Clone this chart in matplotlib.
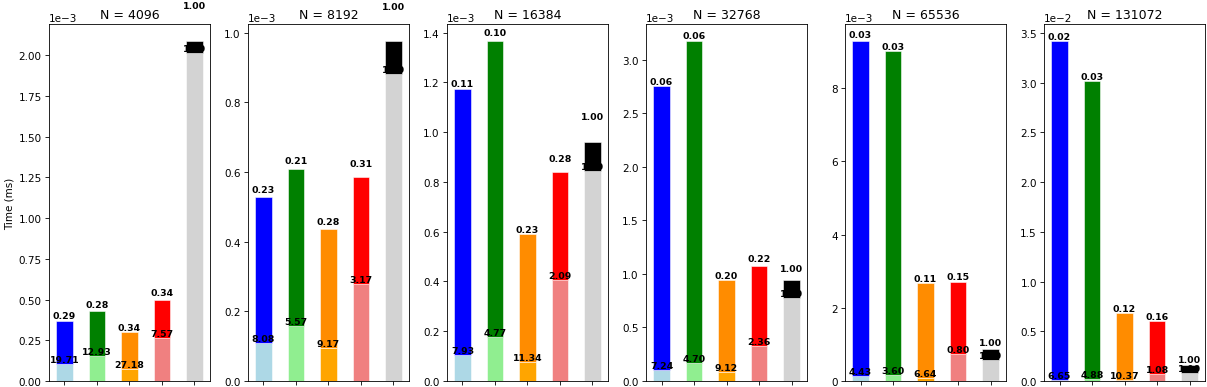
import numpy as np
import matplotlib
matplotlib.use("Agg")
import matplotlib.pyplot as plt

# problem sizes
sizes = [4096, 8192, 16384, 32768, 65536, 131072]

# time of the first stage (lower, light part) per method, in ms
stage1 = [
    [0.102e-3, 0.156e-3, 0.074e-3, 0.266e-3, 2.012e-3],
    [0.109e-3, 0.158e-3, 0.096e-3, 0.279e-3, 0.882e-3],
    [0.106e-3, 0.177e-3, 0.0745e-3, 0.404e-3, 0.845e-3],
    [0.107e-3, 0.164e-3, 0.085e-3, 0.329e-3, 0.773e-3],
    [0.131e-3, 0.161e-3, 0.087e-3, 0.725e-3, 0.58e-3],
    [0.012e-2, 0.0164e-2, 0.0077e-2, 0.074e-2, 0.08e-2],
]
# total time (stage 1 + stage 2), in ms
total = [
    [0.367e-3, 0.429e-3, 0.300e-3, 0.494e-3, 2.086e-3],
    [0.529e-3, 0.608e-3, 0.437e-3, 0.587e-3, 0.976e-3],
    [1.172e-3, 1.366e-3, 0.589e-3, 0.838e-3, 0.961e-3],
    [2.754e-3, 3.175e-3, 0.944e-3, 1.078e-3, 0.944e-3],
    [9.287e-3, 9.01e-3, 2.679e-3, 2.698e-3, 0.875e-3],
    [3.42e-2, 3.017e-2, 0.681e-2, 0.607e-2, 0.164e-2],
]
# spread of the total time (run to run)
spread = [
    [0.008e-3, 0.014e-3, 0.003e-3, 0.021e-3, 0.19e-3],
    [0.007e-3, 0.013e-3, 0.007e-3, 0.025e-3, 0.086e-3],
    [0.007e-3, 0.017e-3, 0.003e-3, 0.036e-3, 0.083e-3],
    [0.0, 0.005e-3, 0.0, 0.028e-3, 0.068e-3],
    [0.05e-3, 0.01e-3, 0.0, 0.04e-3, 0.05e-3],
    [0.0, 0.0, 0.0, 0.0, 0.004e-2],
]
# speedup labels
speedup_stage1 = [
    ["19.71", "12.93", "27.18", "7.57", "1.00"],
    ["8.08", "5.57", "9.17", "3.17", "1.00"],
    ["7.93", "4.77", "11.34", "2.09", "1.00"],
    ["7.24", "4.70", "9.12", "2.36", "1.00"],
    ["4.43", "3.60", "6.64", "0.80", "1.00"],
    ["6.65", "4.88", "10.37", "1.08", "1.00"],
]
speedup_stage2 = [
    ["0.29", "0.28", "0.34", "0.34", "1.00"],
    ["0.23", "0.21", "0.28", "0.31", "1.00"],
    ["0.11", "0.10", "0.23", "0.28", "1.00"],
    ["0.06", "0.06", "0.20", "0.22", "1.00"],
    ["0.03", "0.03", "0.11", "0.15", "1.00"],
    ["0.02", "0.03", "0.12", "0.16", "1.00"],
]

light_colors = ["lightblue", "lightgreen", "orange", "lightcoral", "lightgray"]
dark_colors = ["blue", "green", "darkorange", "red", "black"]

fig, axes = plt.subplots(1, 6, figsize=(1207 / 75, 388 / 75), dpi=75)
plt.subplots_adjust(left=49 / 1207, right=1205 / 1207, bottom=6 / 388,
                    top=1 - 25 / 388, wspace=0.237)

x = np.arange(5)
for i, ax in enumerate(axes):
    s1 = np.array(stage1[i])
    tot = np.array(total[i])
    s2 = tot - s1
    ax.bar(x, s1, width=0.5, color=light_colors, edgecolor="white", linewidth=0.5)
    ax.bar(x, s2, width=0.5, bottom=s1, color=dark_colors, edgecolor="white", linewidth=0.5)
    for j in range(5):
        ax.text(x[j], s1[j], speedup_stage1[i][j], ha="center", va="bottom",
                fontsize=9, fontweight="bold")
        ax.text(x[j], tot[j] + spread[i][j], speedup_stage2[i][j], ha="center",
                va="bottom", fontsize=9, fontweight="bold")
    ax.set_title(f"N = {sizes[i]}", fontsize=12)
    ax.set_xticks(x)
    ax.set_xticklabels([])
    ax.ticklabel_format(axis="y", style="sci", scilimits=(0, 0))

axes[0].set_ylabel("Time (ms)")

plt.savefig("out.png", dpi=75)
